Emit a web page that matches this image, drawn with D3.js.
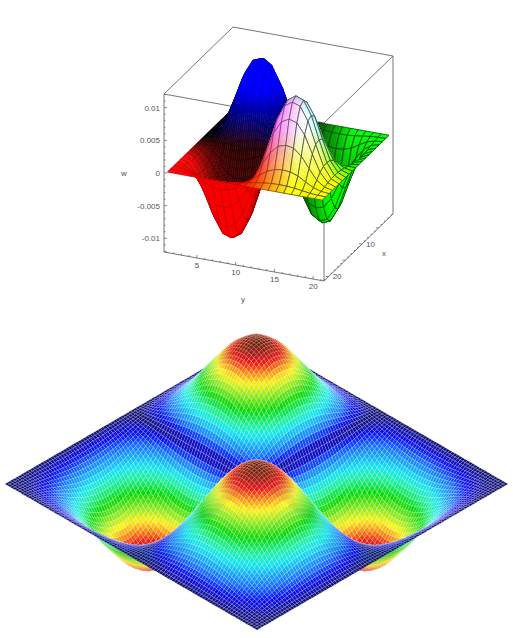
<!DOCTYPE html>
<html>
<head>
<meta charset="utf-8">
<script src="https://cdn.jsdelivr.net/npm/d3@7/dist/d3.min.js"></script>
<style>
html,body{margin:0;padding:0;background:#fff}
svg{display:block}
text{font-family:"Liberation Sans",Arial,sans-serif;font-size:8px;fill:#555}
</style>
</head>
<body>
<svg id="c" width="513" height="638"></svg>
<script>
// ---------- data ----------
const yTicks = [5, 10, 15, 20];
const xTicks = [10, 20];
const wTicks = [0.01, 0.005, 0, -0.005, -0.01];
const wTickLabels = ["0.01", "0.005", "0", "-0.005", "-0.01"];
const wPeak = 0.0117;

// top surface: mode shape along x and along y, 21 stations each
const topXProfile = [0,.05,.20,.48,.78,.96,1,.93,.72,.38,0,-.38,-.72,-.93,-1,-.96,-.78,-.48,-.20,-.05,0];
const topYProfile = [0,.05,.20,.48,.78,.96,1,.93,.72,.38,0,-.38,-.72,-.93,-1,-.96,-.78,-.48,-.20,-.05,0];

// bottom surface: mode shape sampled at 101 stations along each side
const lowProfile = [
0,.01,.03,.06,.09,.12,.16,.20,.25,.295,
.34,.39,.445,.495,.55,.60,.65,.695,.745,.79,
.83,.865,.895,.925,.95,.97,.982,.992,.998,1,
.994,.983,.968,.946,.92,.889,.854,.813,.769,.72,
.667,.611,.552,.49,.425,.358,.288,.217,.145,.073,
0,
-.073,-.145,-.217,-.288,-.358,-.425,-.49,-.552,-.611,-.667,
-.72,-.769,-.813,-.854,-.889,-.92,-.946,-.968,-.983,-.994,
-1,-.998,-.992,-.982,-.97,-.95,-.925,-.895,-.865,-.83,
-.79,-.745,-.695,-.65,-.60,-.55,-.495,-.445,-.39,-.34,
-.295,-.25,-.20,-.16,-.12,-.09,-.06,-.03,-.01,0];

const lowBandStops  = [0,.02,.06,.14,.29,.38,.50,.62,.72,.80,.88,1];
const lowBandColors = ["#12126e","#1414a8","#0c0cf0","#1870ff","#14e4f0","#20f0a0","#08d808","#8ce81e","#fbf014","#f88c14","#f01414","#6e1e14"];

// ---------- drawing ----------
const svg = d3.select("#c");
const quadPath = d3.line().x(d => d[0]).y(d => d[1]);
const closedQuad = q => quadPath(q) + "Z";

// ---- top chart: orthographic box ----
const topO = [233, 106];
const topYtoX = d3.scaleLinear().domain([0.75, 21.4]).range([0, 160]);
const topYtoY = d3.scaleLinear().domain([0.75, 21.4]).range([0, 29]);
const topXtoX = d3.scaleLinear().domain([0.75, 21.4]).range([0, -69]);
const topXtoY = d3.scaleLinear().domain([0.75, 21.4]).range([0, 67]);
const topW = d3.scaleLinear().domain([-0.0121, 0.0121]).range([79, -79]);
const xMin = 0.75, xMax = 21.4, wMin = -0.0121, wMax = 0.0121;
const topP = (x, y, w) => [topO[0] + topYtoX(y) + topXtoX(x), topO[1] + topYtoY(y) + topXtoY(x) + topW(w)];

const gTop = svg.append("g");
const boxEdges = [
  [[xMin,xMin,wMax],[xMax,xMin,wMax]],
  [[xMin,xMin,wMax],[xMin,xMax,wMax]],
  [[xMax,xMin,wMax],[xMax,xMax,wMax]],
  [[xMin,xMax,wMax],[xMax,xMax,wMax]],
  [[xMax,xMin,wMax],[xMax,xMin,wMin]],
  [[xMin,xMax,wMax],[xMin,xMax,wMin]],
  [[xMax,xMax,wMax],[xMax,xMax,wMin]],
  [[xMax,xMin,wMin],[xMax,xMax,wMin]],
  [[xMin,xMax,wMin],[xMax,xMax,wMin]]
];
gTop.selectAll("path.edge").data(boxEdges).join("path").attr("class","edge")
  .attr("fill","none").attr("stroke","#666").attr("stroke-width",0.9)
  .attr("d", e => quadPath(e.map(p => topP(p[0],p[1],p[2]))));

// ticks
const yMinor = d3.range(1, 22), xMinor = d3.range(1, 22), wMinor = d3.range(-12, 13).map(d => d / 1000);
gTop.selectAll("path.ty").data(yMinor).join("path").attr("class","ty")
  .attr("stroke","#555").attr("stroke-width",0.7)
  .attr("d", v => { const p = topP(xMax, v, wMin); return quadPath([p,[p[0],p[1]-(v%5===0?3:1.5)]]); });
gTop.selectAll("path.tx").data(xMinor).join("path").attr("class","tx")
  .attr("stroke","#555").attr("stroke-width",0.7)
  .attr("d", v => { const p = topP(v, xMax, wMin); return quadPath([p,[p[0]-(v%5===0?3:1.5),p[1]]]); });
gTop.selectAll("path.tw").data(wMinor).join("path").attr("class","tw")
  .attr("stroke","#555").attr("stroke-width",0.7)
  .attr("d", v => { const p = topP(xMax, xMin, v); return quadPath([p,[p[0]+(Math.round(v*1000)%5===0?3:1.5),p[1]]]); });

gTop.selectAll("text.ly").data(yTicks).join("text").attr("class","ly").attr("text-anchor","middle")
  .attr("x", v => topP(xMax, v, wMin)[0]).attr("y", v => topP(xMax, v, wMin)[1] + 10).text(v => v);
gTop.selectAll("text.lx").data(xTicks).join("text").attr("class","lx")
  .attr("x", v => topP(v, xMax, wMin)[0] + 4).attr("y", v => topP(v, xMax, wMin)[1] + 3).text(v => v);
gTop.selectAll("text.lw").data(wTicks).join("text").attr("class","lw").attr("text-anchor","end")
  .attr("x", 160).attr("y", v => topP(xMax, xMin, v)[1] + 3).text((v, i) => wTickLabels[i]);
gTop.append("text").attr("x",124).attr("y",176).attr("text-anchor","middle").text("w");
gTop.append("text").attr("x",243).attr("y",302).attr("text-anchor","middle").text("y");
gTop.append("text").attr("x",384).attr("y",256).attr("text-anchor","middle").text("x");

// surface colours: red follows x, green follows y, blue follows height; shaded smoothly inside each cell
const rOf = d3.scaleLinear().domain([.45,.76]).range([0,255]).clamp(true);
const gOf = d3.scaleLinear().domain([.46,.78]).range([0,255]).clamp(true);
const bOf = d3.scaleLinear().domain([0,.0075]).range([0,255]).clamp(true);
const pitShade = d3.scaleLinear().domain([0,.0117]).range([1,.3]).clamp(true);
const lineOp = d3.scaleLinear().domain([0,255]).range([.2,.8]);
const subSteps = d3.range(4);

const topShards = [];
const topN = topXProfile.length;
const topGrid = d3.range(topN).map(i => i + 1);
const topVal = (i, j) => wPeak * topXProfile[i] * topYProfile[j];
const lerp2 = (a,b,c,d,s,t) => a*(1-s)*(1-t) + b*(1-s)*t + c*s*t + d*s*(1-t);
d3.range(topN-1).forEach(i => d3.range(topN-1).forEach(j => {
  const corners = [topP(topGrid[i],topGrid[j],topVal(i,j)), topP(topGrid[i],topGrid[j+1],topVal(i,j+1)),
                   topP(topGrid[i+1],topGrid[j+1],topVal(i+1,j+1)), topP(topGrid[i+1],topGrid[j],topVal(i+1,j))];
  const upper = d3.polygonArea(corners) < 0;   // upper side of the sheet faces the viewer
  const at = (s,t) => [lerp2(corners[0][0],corners[1][0],corners[2][0],corners[3][0],s,t),
                       lerp2(corners[0][1],corners[1][1],corners[2][1],corners[3][1],s,t)];
  subSteps.forEach(a => subSteps.forEach(b => {
    const s0=a/4,s1=(a+1)/4,t0=b/4,t1=(b+1)/4,sm=(a+.5)/4,tm=(b+.5)/4;
    const w = lerp2(topVal(i,j),topVal(i,j+1),topVal(i+1,j+1),topVal(i+1,j),sm,tm);
    const k = (upper && w < 0) ? pitShade(-w) : 1;
    const col = d3.rgb(k*rOf((i+sm)/(topN-1)), k*gOf((j+tm)/(topN-1)), bOf(w));
    topShards.push({q:[at(s0,t0),at(s0,t1),at(s1,t1),at(s1,t0)], fill:col, stroke:col, sw:0.5, op:1});
  }));
  topShards.push({q:corners, fill:"none", stroke:"#000", sw:0.7, op:lineOp(gOf((j+.5)/(topN-1)))});
}));
gTop.append("g").selectAll("path").data(topShards).join("path")
  .attr("d", c => closedQuad(c.q))
  .attr("fill", c => c.fill)
  .attr("stroke", c => c.stroke).attr("stroke-width", c => c.sw)
  .attr("stroke-opacity", c => c.op);

// ---- bottom chart ----
const lowN = lowProfile.length;
const lowUX = d3.scaleLinear().domain([0,lowN-1]).range([0,252]);
const lowUY = d3.scaleLinear().domain([0,lowN-1]).range([0,146]);
const lowVX = d3.scaleLinear().domain([0,lowN-1]).range([0,-251]);
const lowVY = d3.scaleLinear().domain([0,lowN-1]).range([0,146]);
const lowH  = d3.scaleLinear().domain([0,1]).range([0,-82]);
const lowColor = d3.scaleLinear().domain(lowBandStops).range(lowBandColors).clamp(true);
const lowVal = (i,j) => lowProfile[i]*lowProfile[j];
const lowP = (i,j) => [256 + lowUX(j) + lowVX(i), 338 + lowUY(j) + lowVY(i) + lowH(lowVal(i,j))];

const lowCells = [];
const lowIdx = d3.range(lowN-1);
lowIdx.forEach(i => lowIdx.forEach(j => {
  lowCells.push({
    q: [lowP(i,j), lowP(i,j+1), lowP(i+1,j+1), lowP(i+1,j)],
    v: Math.abs(lowVal(i,j)+lowVal(i+1,j)+lowVal(i,j+1)+lowVal(i+1,j+1))/4
  });
}));
svg.append("g").selectAll("path").data(lowCells).join("path")
  .attr("d", c => closedQuad(c.q))
  .attr("fill", c => lowColor(c.v))
  .attr("stroke", "#fff").attr("stroke-width",0.3).attr("stroke-opacity",0.5);
</script>
</body>
</html>
